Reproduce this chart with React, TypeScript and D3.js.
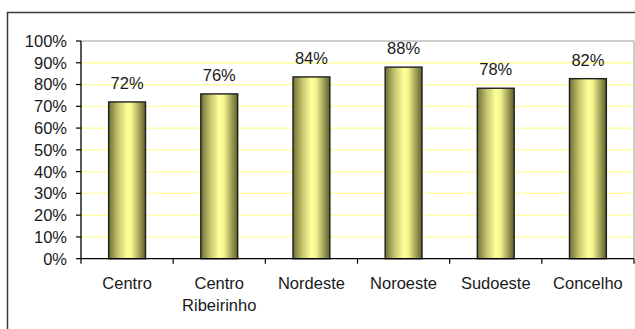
import React from "react";
import * as d3 from "d3";

const categories: string[][] = [
  ["Centro"],
  ["Centro", "Ribeirinho"],
  ["Nordeste"],
  ["Noroeste"],
  ["Sudoeste"],
  ["Concelho"],
];
const values: number[] = [0.72, 0.757, 0.835, 0.88, 0.783, 0.827];
const valueLabels: string[] = ["72%", "76%", "84%", "88%", "78%", "82%"];
const yTicks: number[] = [0, 0.1, 0.2, 0.3, 0.4, 0.5, 0.6, 0.7, 0.8, 0.9, 1.0];

const W = 635;
const H = 329;
const left = 81;
const right = 634;
const top = 41;
const bottom = 258.7;
const FONT = "'Liberation Sans', Arial, sans-serif";

export default function App() {
  const keys = categories.map((c) => c.join(" "));
  const x = d3.scaleBand<string>().domain(keys).range([left, right]).padding(0);
  const y = d3.scaleLinear().domain([0, 1]).range([bottom, top]);
  const bw = x.bandwidth() * 0.4;
  const fmt = d3.format(".0%");
  const boundaries = keys.map((k) => x(k) as number).concat([right]);

  return (
    <svg
      width={W}
      height={H}
      style={{ position: "absolute", left: 0, top: 0, background: "#fff" }}
      fontFamily={FONT}
    >
      <defs>
        <linearGradient id="barGrad" x1="0" x2="1" y1="0" y2="0">
          <stop offset="0" stopColor="#6e6e36" />
          <stop offset="0.25" stopColor="#c4c46e" />
          <stop offset="0.5" stopColor="#ffff99" />
          <stop offset="0.62" stopColor="#f6f690" />
          <stop offset="1" stopColor="#5e5e2c" />
        </linearGradient>
      </defs>
      <rect x={0} y={0} width={W} height={H} fill="#fff" />
      {/* outer chart border */}
      <rect x={7.5} y={12.5} width={W + 10} height={H + 10} fill="none" stroke="#3a3a3a" strokeWidth={1.5} />
      {/* gridlines */}
      {yTicks.slice(1, -1).map((t) => (
        <line key={t} x1={left} x2={right} y1={y(t)} y2={y(t)} stroke="#ffff99" strokeWidth={1.3} />
      ))}
      {/* plot area border (top/right) */}
      <path d={`M${left},${y(1)}H${right}V${bottom}`} fill="none" stroke="#9a9a9a" strokeWidth={1} />
      {/* bars */}
      {values.map((v, i) => {
        const cx = (x(keys[i]) as number) + x.bandwidth() / 2;
        return (
          <g key={keys[i]}>
            <rect
              x={cx - bw / 2}
              y={y(v)}
              width={bw}
              height={bottom - y(v)}
              fill="url(#barGrad)"
              stroke="#1e1e1e"
              strokeWidth={1.4}
            />
            <text x={cx} y={y(v) - 13} textAnchor="middle" fontSize={16.5} fill="#1a1a1a">
              {valueLabels[i]}
            </text>
          </g>
        );
      })}
      {/* y axis */}
      <line x1={left} x2={left} y1={top} y2={bottom} stroke="#000" strokeWidth={1.3} />
      {yTicks.map((t) => (
        <g key={"yt" + t}>
          <line x1={left - 5} x2={left} y1={y(t)} y2={y(t)} stroke="#000" strokeWidth={1.2} />
          <text x={67} y={y(t)} dy="0.36em" textAnchor="end" fontSize={16.5} fill="#1a1a1a">
            {fmt(t)}
          </text>
        </g>
      ))}
      {/* x axis */}
      <line x1={left} x2={right} y1={bottom} y2={bottom} stroke="#000" strokeWidth={1.3} />
      {boundaries.map((b, i) => (
        <line key={"xt" + i} x1={b} x2={b} y1={bottom} y2={bottom + 5} stroke="#000" strokeWidth={1.2} />
      ))}
      {categories.map((lines, i) => {
        const cx = (x(keys[i]) as number) + x.bandwidth() / 2;
        return (
          <text key={"c" + i} x={cx} y={289} textAnchor="middle" fontSize={16.5} fill="#1a1a1a">
            {lines.map((l, j) => (
              <tspan key={j} x={cx} dy={j === 0 ? 0 : 21.5}>
                {l}
              </tspan>
            ))}
          </text>
        );
      })}
    </svg>
  );
}
